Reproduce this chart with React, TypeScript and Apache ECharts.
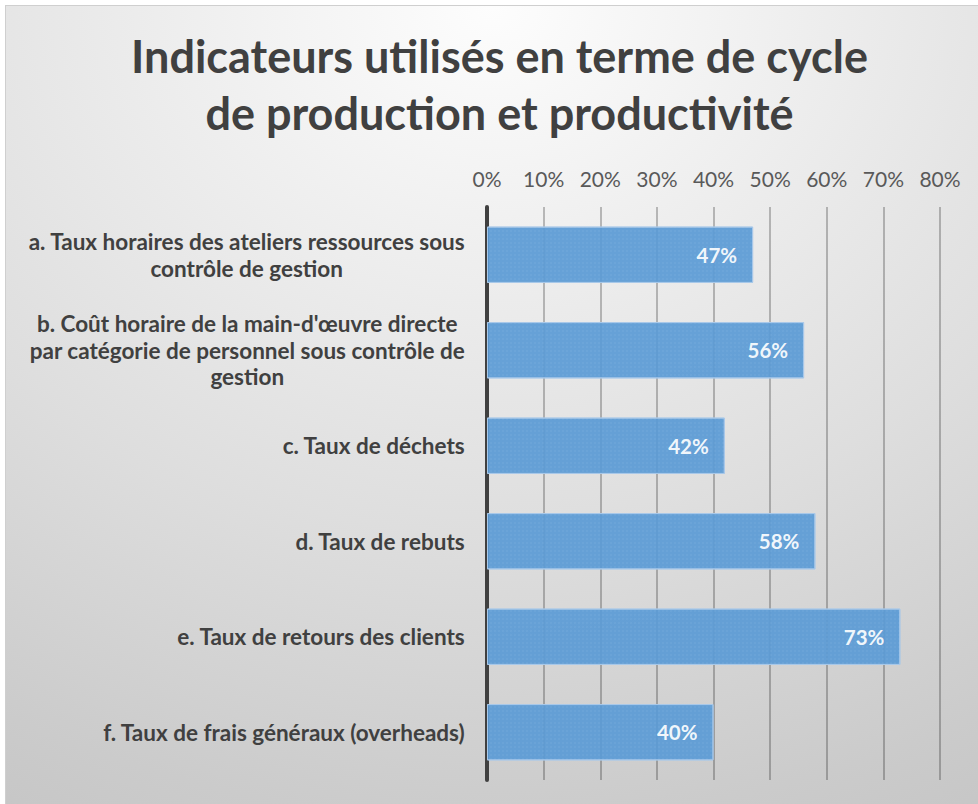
import React, { useEffect, useRef } from "react";
import * as echarts from "echarts";

const titleLines = ["Indicateurs utilisés en terme de cycle", "de production et productivité"];
const categories = [
  "a. Taux horaires des ateliers ressources sous\ncontrôle de gestion",
  "b. Coût horaire de la main-d'œuvre directe\npar catégorie de personnel sous contrôle de\ngestion",
  "c. Taux de déchets",
  "d. Taux de rebuts",
  "e. Taux de retours des clients",
  "f. Taux de frais généraux (overheads)",
];
const values = [47, 56, 42, 58, 73, 40];
const axisMin = 0;
const axisMax = 80;
const axisStep = 10;

const FONT = "Lato, 'Open Sans', sans-serif";

export default function App() {
  const ref = useRef<HTMLDivElement>(null);
  useEffect(() => {
    if (!ref.current) return;
    const chart = echarts.init(ref.current, undefined, { renderer: "svg" });
    const titleStyle = {
      fontFamily: FONT,
      fontWeight: "bold",
      fontSize: 45,
      lineHeight: 57,
      color: "#404040",
    };
    chart.setOption({
      animation: false,
      backgroundColor: new echarts.graphic.RadialGradient(0.5, 0, 1.2, [
        { offset: 0, color: "#fdfdfd" },
        { offset: 0.2, color: "#f2f2f2" },
        { offset: 0.55, color: "#dedede" },
        { offset: 0.85, color: "#cbcbcb" },
        { offset: 1, color: "#c3c3c3" },
      ]),
      title: {
        text: titleLines.map((l) => `{t|${l}}`).join("\n"),
        left: 125,
        top: 21,
        padding: 0,
        textAlign: "left",
        textStyle: {
          ...titleStyle,
          rich: { t: { ...titleStyle, align: "center" } },
        },
      },
      grid: { left: 481, right: 38, top: 201, bottom: 24, containLabel: false },
      xAxis: {
        type: "value",
        position: "top",
        min: axisMin,
        max: axisMax,
        interval: axisStep,
        axisLine: { show: false },
        axisTick: { show: false },
        axisLabel: {
          formatter: "{value}%",
          fontFamily: FONT,
          fontSize: 21,
          color: "#595959",
          margin: 18,
        },
        splitLine: { lineStyle: { color: "rgba(0,0,0,0.24)", width: 2 } },
      },
      yAxis: {
        type: "category",
        inverse: true,
        data: categories,
        axisLine: { show: true, lineStyle: { color: "#404040", width: 4 } },
        axisTick: { show: false },
        axisLabel: {
          align: "right",
          margin: 22,
          formatter: (v: string) => v.split("\n").map((l) => `{c|${l}}`).join("\n"),
          rich: {
            c: {
              align: "center",
              fontFamily: FONT,
              fontWeight: "bold",
              fontSize: 22.5,
              lineHeight: 26.5,
              color: "#404040",
            },
          },
        },
      },
      series: [
        {
          type: "bar",
          data: values,
          barCategoryGap: "41%",
          itemStyle: {
            color: "#5b9bd5",
            opacity: 0.93,
            borderColor: "#a8c8ea",
            borderWidth: 1,
            decal: {
              symbol: "rect",
              symbolSize: 0.5,
              dashArrayX: [2, 2],
              dashArrayY: [2, 2],
              color: "rgba(255,255,255,0.16)",
              rotation: 0,
            },
          },
          label: {
            show: true,
            position: "insideRight",
            distance: 16,
            formatter: "{c}%",
            color: "#ffffff",
            fontFamily: FONT,
            fontWeight: "bold",
            fontSize: 20.5,
          },
          z: 3,
        },
      ],
    });
    return () => chart.dispose();
  }, []);
  return (
    <div
      style={{
        position: "fixed",
        left: 5,
        top: 5,
        width: 973,
        height: 799,
        borderLeft: "1px solid #cfcfcf",
        borderTop: "1px solid #cfcfcf",
        boxSizing: "border-box",
        background: "#fff",
      }}
    >
      <div ref={ref} style={{ width: 972, height: 798 }} />
    </div>
  );
}
